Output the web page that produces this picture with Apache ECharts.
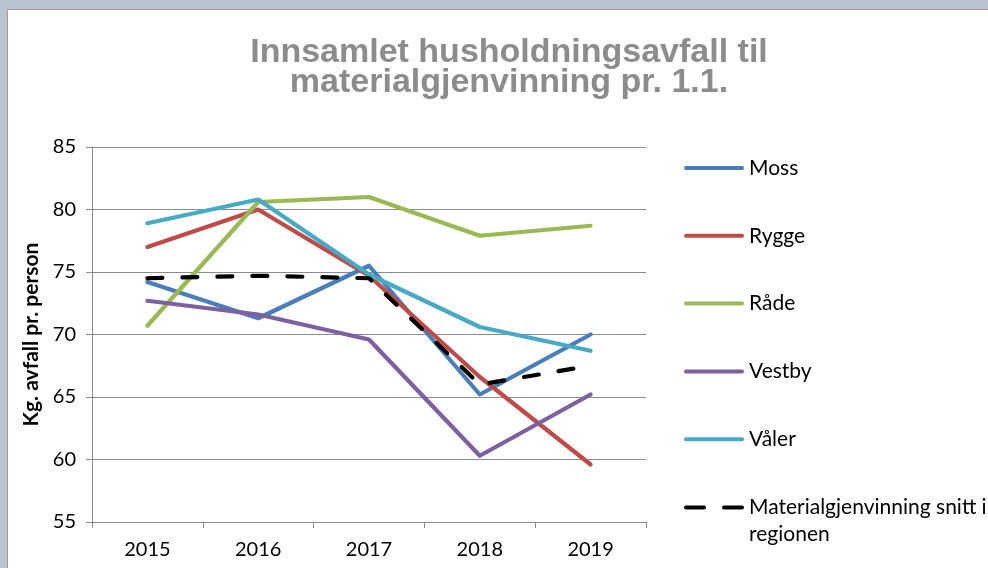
<!DOCTYPE html>
<html>
<head>
<meta charset="utf-8">
<script src="https://cdn.jsdelivr.net/npm/echarts@6/dist/echarts.min.js"></script>
<style>
  html, body { margin: 0; padding: 0; background: #ffffff; }
  #chart { width: 988px; height: 568px; }
</style>
</head>
<body>
<div id="chart"></div>
<script>
const titleText = 'Innsamlet husholdningsavfall til\nmaterialgjenvinning pr. 1.1.';
const yAxisName = 'Kg. avfall pr. person';
const years = ['2015', '2016', '2017', '2018', '2019'];
const moss = [74.2, 71.3, 75.5, 65.2, 70.0];
const rygge = [77.0, 80.0, 74.7, 66.6, 59.6];
const rade = [70.7, 80.6, 81.0, 77.9, 78.7];
const vestby = [72.7, 71.6, 69.6, 60.3, 65.2];
const valer = [78.9, 80.8, 74.8, 70.6, 68.7];
const snitt = [74.5, 74.7, 74.5, 66.0, 67.5];
const seriesNames = ['Moss', 'Rygge', 'Råde', 'Vestby', 'Våler', 'Materialgjenvinning snitt i regionen'];

const colors = ['#4a7ebb', '#be4b48', '#98b954', '#7d60a0', '#46aac5', '#000000'];
const values = [moss, rygge, rade, vestby, valer, snitt];
const font = 'Lato, "Open Sans", sans-serif';
const solidIcon = 'path://M2,0h56a2,2 0 0 1 0,4h-56a2,2 0 0 1 0,-4z';
const dashIcon = 'path://M2,0h18a2,2 0 0 1 0,4h-18a2,2 0 0 1 0,-4zM40,0h18a2,2 0 0 1 0,4h-18a2,2 0 0 1 0,-4z';

const chart = echarts.init(document.getElementById('chart'), null, { renderer: 'canvas' });

const series = values.map((v, i) => ({
  name: seriesNames[i],
  type: 'line',
  data: v,
  symbol: 'none',
  smooth: false,
  z: i === 5 ? 3 : 2,
  lineStyle: {
    color: colors[i],
    width: 4.2,
    type: i === 5 ? [15, 20] : 'solid',
    cap: 'round',
    join: 'round'
  },
  itemStyle: { color: colors[i] },
  emphasis: { disabled: true }
}));

chart.setOption({
  animation: false,
  backgroundColor: '#ffffff',
  graphic: [
    { type: 'rect', z: -10, shape: { x: 0, y: 0, width: 988, height: 10 }, style: { fill: '#b9c4d0' } },
    { type: 'rect', z: -10, shape: { x: 0, y: 0, width: 8, height: 568 }, style: { fill: '#b9c4d0' } },
    { type: 'line', z: -9, shape: { x1: 8, y1: 9.5, x2: 988, y2: 9.5 }, style: { stroke: '#9c9c9c', lineWidth: 1 } },
    { type: 'line', z: -9, shape: { x1: 7.5, y1: 9.5, x2: 7.5, y2: 568 }, style: { stroke: '#9c9c9c', lineWidth: 1 } }
  ],
  title: {
    text: titleText,
    left: 504,
    top: 33,
    textAlign: 'center',
    textStyle: {
      fontFamily: '"Liberation Sans Narrow", "Liberation Sans", sans-serif',
      fontSize: 34,
      fontWeight: 'bold',
      lineHeight: 30,
      color: '#8c8c8c'
    }
  },
  legend: [
    {
      data: seriesNames.slice(0, 5).map(n => ({ name: n, icon: solidIcon })),
      orient: 'vertical',
      left: 679,
      top: 151,
      itemWidth: 60,
      itemHeight: 4,
      itemGap: 43.8,
      textStyle: { fontFamily: font, fontSize: 21, lineHeight: 24, color: '#000' },
      selectedMode: false
    },
    {
      data: [{ name: seriesNames[5], icon: dashIcon }],
      orient: 'vertical',
      left: 679,
      top: 462,
      itemWidth: 60,
      itemHeight: 4,
      formatter: () => ' \nMaterialgjenvinning snitt i\nregionen',
      textStyle: { fontFamily: font, fontSize: 21, lineHeight: 27, color: '#000' },
      selectedMode: false
    }
  ],
  grid: { left: 92, right: 342, top: 147, bottom: 46, containLabel: false },
  xAxis: {
    type: 'category',
    data: years,
    boundaryGap: true,
    axisLine: { lineStyle: { color: '#8c8c8c', width: 1 } },
    axisTick: { show: true, alignWithLabel: false, length: 6, lineStyle: { color: '#8c8c8c' } },
    axisLabel: { color: '#000', fontFamily: font, fontSize: 20, margin: 18 },
    splitLine: { show: false }
  },
  yAxis: {
    type: 'value',
    min: 55,
    max: 85,
    interval: 5,
    name: yAxisName,
    nameLocation: 'middle',
    nameGap: 47,
    nameRotate: 90,
    nameTextStyle: { fontFamily: font, fontSize: 21, fontWeight: 'bold', color: '#000' },
    axisLine: { show: true, lineStyle: { color: '#8c8c8c', width: 1 } },
    axisTick: { show: true, length: 6, lineStyle: { color: '#8c8c8c' } },
    axisLabel: { color: '#000', fontFamily: font, fontSize: 20, margin: 16 },
    splitLine: { show: true, lineStyle: { color: '#8c8c8c', width: 1 } }
  },
  series: series
});
</script>
</body>
</html>
